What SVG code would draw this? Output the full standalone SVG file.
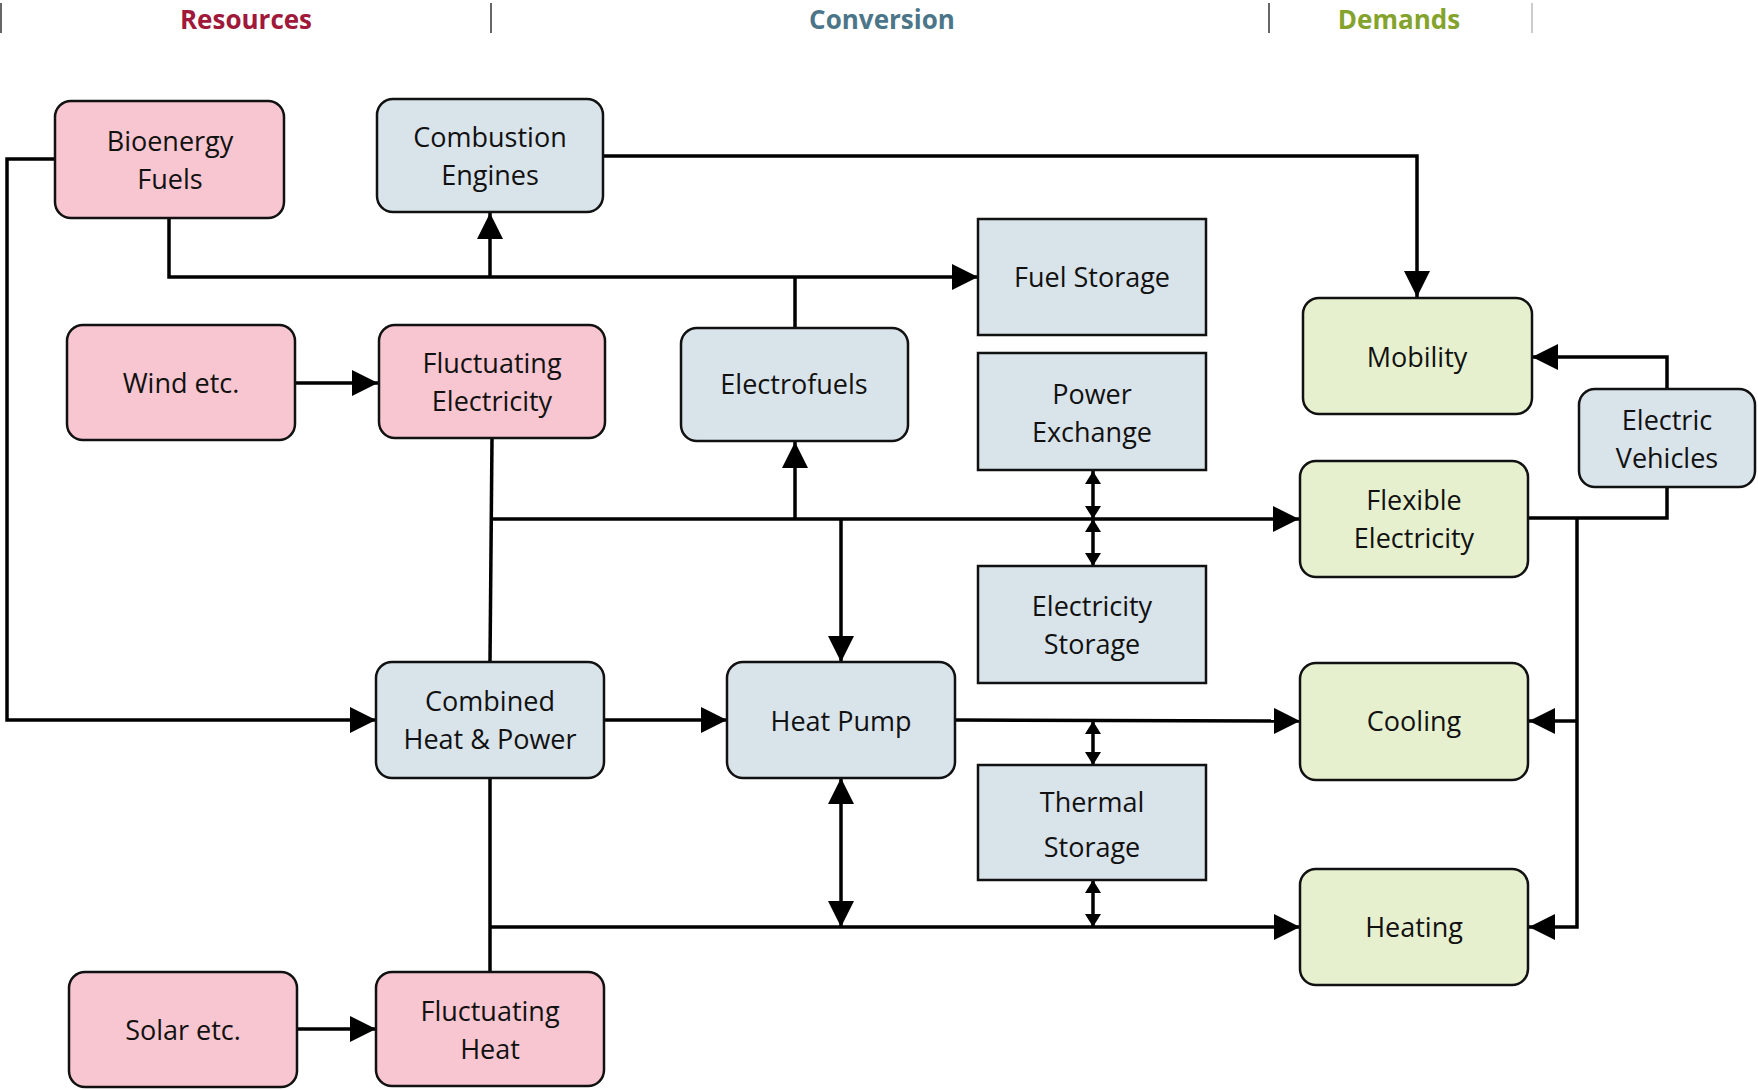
<svg xmlns="http://www.w3.org/2000/svg" width="1758" height="1090" viewBox="0 0 1758 1090">
<style>
.node text{font-family:"Open Sans","Noto Sans",sans-serif;font-size:27px;fill:#111;text-anchor:middle}
.res rect{fill:#F7C6D0;stroke:#111;stroke-width:2.5}
.conv rect{fill:#D9E3EA;stroke:#111;stroke-width:2.5}
.dem rect{fill:#E6F0CF;stroke:#111;stroke-width:2.5}
.sto rect{fill:#D9E3EA;stroke:#111;stroke-width:2.5}
.hdr{font-family:"Open Sans","Noto Sans",sans-serif;font-size:26px;font-weight:bold;text-anchor:middle}
.sep{stroke:#333;stroke-width:1.5}
#connectors path{fill:none;stroke:#000;stroke-width:3.5}
.a{marker-end:url(#arr)}
.d{marker-start:url(#arr);marker-end:url(#arr)}
.s{marker-start:url(#sarr);marker-end:url(#sarr)}
</style>
<defs>
<marker id="arr" viewBox="0 0 26 26" refX="26" refY="13" markerWidth="26" markerHeight="26" markerUnits="userSpaceOnUse" orient="auto-start-reverse"><path d="M0,0 L26,13 L0,26 z" fill="#000"/></marker>
<marker id="sarr" viewBox="0 0 13 16" refX="13" refY="8" markerWidth="13" markerHeight="16" markerUnits="userSpaceOnUse" orient="auto-start-reverse"><path d="M0,0 L13,8 L0,16 z" fill="#000"/></marker>
</defs>
<rect width="1758" height="1090" fill="#fff"/>
<g id="header">
<line class="sep" x1="1" y1="3" x2="1" y2="33"/>
<line class="sep" x1="491" y1="3" x2="491" y2="33"/>
<line class="sep" x1="1269" y1="3" x2="1269" y2="33"/>
<line x1="1532" y1="3" x2="1532" y2="33" stroke="#bbb" stroke-width="1.5"/>
<text class="hdr" x="246" y="29" fill="#A0183A">Resources</text>
<text class="hdr" x="882" y="29" fill="#4B7588">Conversion</text>
<text class="hdr" x="1399" y="29" fill="#84A32C">Demands</text>
</g>
<g id="connectors">
<path class="a" d="M55,159 H7 V720 H376"/>
<path class="a" d="M169,218 V277 H978"/>
<path class="a" d="M490,277 V213"/>
<path d="M795,328 V277"/>
<path class="a" d="M603,156 H1417 V297"/>
<path class="a" d="M295,383 H378"/>
<path d="M492,438 L490,662"/>
<path class="a" d="M492,519 H1299"/>
<path class="a" d="M795,519 V442"/>
<path class="a" d="M841,519 V662"/>
<path class="s" d="M1093,471 V519"/>
<path class="s" d="M1093,519 V566"/>
<path class="a" d="M604,720 H727"/>
<path class="a" d="M955,720 L1300,721"/>
<path class="s" d="M1093,721 V765"/>
<path class="s" d="M1093,880 V927"/>
<path d="M490,778 V972"/>
<path class="a" d="M490,927 H1300"/>
<path class="d" d="M841,778 V927"/>
<path class="a" d="M297,1029 H376"/>
<path class="a" d="M1667,389 V357 H1532"/>
<path d="M1667,487 V518 H1528"/>
<path class="a" d="M1577,518 V927 H1529"/>
<path class="a" d="M1577,721 H1529"/>
</g>
<g id="bioenergy" class="node res"><rect x="55" y="101" width="229" height="117" rx="16"/><text x="170" y="151">Bioenergy</text><text x="170" y="189">Fuels</text></g>
<g id="combustion" class="node conv"><rect x="377" y="99" width="226" height="113" rx="16"/><text x="490" y="147">Combustion</text><text x="490" y="185">Engines</text></g>
<g id="fuelstorage" class="node sto"><rect x="978" y="219" width="228" height="116"/><text x="1092" y="287">Fuel Storage</text></g>
<g id="wind" class="node res"><rect x="67" y="325" width="228" height="115" rx="16"/><text x="181" y="393">Wind etc.</text></g>
<g id="flucelec" class="node res"><rect x="379" y="325" width="226" height="113" rx="16"/><text x="492" y="373">Fluctuating</text><text x="492" y="411">Electricity</text></g>
<g id="electrofuels" class="node conv"><rect x="681" y="328" width="227" height="113" rx="16"/><text x="794" y="394">Electrofuels</text></g>
<g id="powerexchange" class="node sto"><rect x="978" y="353" width="228" height="117"/><text x="1092" y="404">Power</text><text x="1092" y="442">Exchange</text></g>
<g id="mobility" class="node dem"><rect x="1303" y="298" width="229" height="116" rx="16"/><text x="1417" y="367">Mobility</text></g>
<g id="ev" class="node conv"><rect x="1579" y="389" width="176" height="98" rx="16"/><text x="1667" y="430">Electric</text><text x="1667" y="468">Vehicles</text></g>
<g id="flexelec" class="node dem"><rect x="1300" y="461" width="228" height="116" rx="16"/><text x="1414" y="510">Flexible</text><text x="1414" y="548">Electricity</text></g>
<g id="elecstorage" class="node sto"><rect x="978" y="566" width="228" height="117"/><text x="1092" y="616">Electricity</text><text x="1092" y="654">Storage</text></g>
<g id="chp" class="node conv"><rect x="376" y="662" width="228" height="116" rx="16"/><text x="490" y="711">Combined</text><text x="490" y="749">Heat &amp; Power</text></g>
<g id="heatpump" class="node conv"><rect x="727" y="662" width="228" height="116" rx="16"/><text x="841" y="731">Heat Pump</text></g>
<g id="cooling" class="node dem"><rect x="1300" y="663" width="228" height="117" rx="16"/><text x="1414" y="731">Cooling</text></g>
<g id="thermalstorage" class="node sto"><rect x="978" y="765" width="228" height="115"/><text x="1092" y="812">Thermal</text><text x="1092" y="857">Storage</text></g>
<g id="heating" class="node dem"><rect x="1300" y="869" width="228" height="116" rx="16"/><text x="1414" y="937">Heating</text></g>
<g id="solar" class="node res"><rect x="69" y="972" width="228" height="115" rx="16"/><text x="183" y="1040">Solar etc.</text></g>
<g id="flucheat" class="node res"><rect x="376" y="972" width="228" height="114" rx="16"/><text x="490" y="1021">Fluctuating</text><text x="490" y="1059">Heat</text></g>
</svg>
